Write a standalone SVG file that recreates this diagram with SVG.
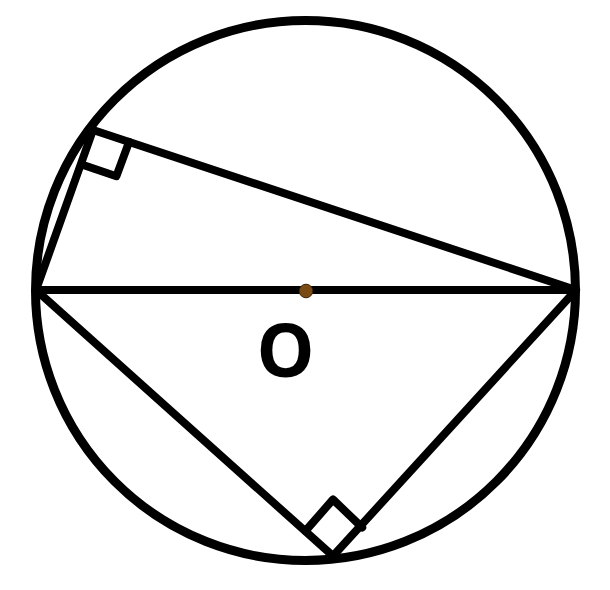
<svg xmlns="http://www.w3.org/2000/svg" width="610" height="590" viewBox="0 0 610 590">
<style>
.ln{fill:none;stroke:#000;stroke-width:8;stroke-linejoin:round;stroke-linecap:round}
.lbl{font-family:"Open Sans",sans-serif;font-weight:bold;font-size:73px;fill:#000}
</style>
<rect width="610" height="590" fill="#fff"/>
<g id="circle"><circle cx="305.5" cy="290.5" r="270" fill="none" stroke="#000" stroke-width="9"/></g>
<g id="connectors">
<line class="ln" x1="36" y1="290" x2="576" y2="290" stroke-width="7"/>
<polyline class="ln" points="36,290 93,130 576,290"/>
<polyline class="ln" points="36,290 333,556 576,290"/>
</g>
<g id="rightangle-top"><polyline class="ln" points="129.1,141.9 116.4,176.2 81.7,164.5" stroke-width="7" stroke-linecap="butt" stroke-linejoin="miter"/></g>
<g id="rightangle-bottom"><polyline class="ln" points="305.4,531 333,499.5 362.2,527.5" stroke-width="7" stroke-linecap="butt" stroke-linejoin="miter"/></g>
<g id="center"><circle cx="306" cy="291" r="6.8" fill="#7a4a14" stroke="#3a2208" stroke-width="1"/></g>
<g id="label-O"><text class="lbl" x="285.5" y="377" text-anchor="middle">O</text></g>
</svg>
